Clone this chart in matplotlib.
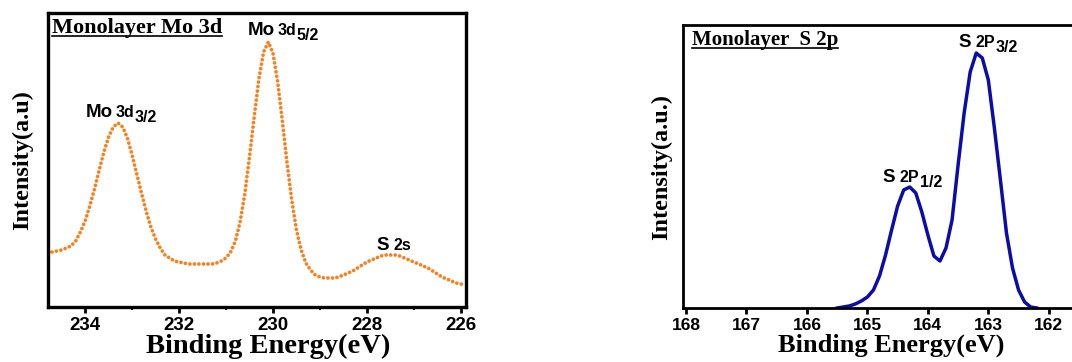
import numpy as np
import matplotlib.pyplot as plt
from matplotlib.ticker import MultipleLocator

# Mo 3d region, binding energy (eV) and intensity (a.u.)
mo_energy = [234.8, 234.7, 234.6, 234.5, 234.4, 234.3, 234.2, 234.1, 234.0, 233.9,
             233.8, 233.7, 233.6, 233.5, 233.4, 233.3, 233.2, 233.1, 233.0, 232.9,
             232.8, 232.7, 232.6, 232.5, 232.4, 232.3, 232.2, 232.1, 232.0, 231.9,
             231.8, 231.7, 231.6, 231.5, 231.4, 231.3, 231.2, 231.1, 231.0, 230.9,
             230.8, 230.7, 230.6, 230.5, 230.4, 230.3, 230.2, 230.1, 230.0, 229.9,
             229.8, 229.7, 229.6, 229.5, 229.4, 229.3, 229.2, 229.1, 229.0, 228.9,
             228.8, 228.7, 228.6, 228.5, 228.4, 228.3, 228.2, 228.1, 228.0, 227.9,
             227.8, 227.7, 227.6, 227.5, 227.4, 227.3, 227.2, 227.1, 227.0, 226.9,
             226.8, 226.7, 226.6, 226.5, 226.4, 226.3, 226.2, 226.1, 226.0, 225.9]
mo_intensity = [54, 55, 56, 57, 59, 61, 66, 75, 86, 101,
                118, 137, 155, 170, 180, 184, 180, 169, 152, 133,
                114, 96, 80, 68, 59, 52, 49, 46, 45, 44,
                43, 43, 43, 43, 43, 43, 44, 46, 49, 55,
                66, 85, 113, 150, 190, 228, 255, 265, 254, 225,
                186, 144, 107, 77, 57, 44, 37, 32, 30, 29,
                29, 29, 30, 32, 34, 36, 39, 42, 45, 47,
                49, 51, 52, 52, 52, 51, 49, 47, 45, 43,
                41, 39, 36, 33, 30, 28, 26, 24, 23, 22]

# S 2p region
s_energy = [165.5, 165.4, 165.3, 165.2, 165.1, 165.0, 164.9, 164.8, 164.7, 164.6,
            164.5, 164.4, 164.3, 164.2, 164.1, 164.0, 163.9, 163.8, 163.7, 163.6,
            163.5, 163.4, 163.3, 163.2, 163.1, 163.0, 162.9, 162.8, 162.7, 162.6,
            162.5, 162.4, 162.3, 162.2]
s_intensity = [0, 1, 2, 4, 7, 11, 18, 32, 53, 78,
               102, 118, 121, 115, 96, 73, 52, 47, 60, 88,
               143, 195, 236, 255, 250, 228, 180, 128, 75, 40,
               18, 6, 1, 0]

mo_ticks = [234, 232, 230, 228, 226]
s_ticks = [168, 167, 166, 165, 164, 163, 162]

W, H = 1072, 362
serif = 'Liberation Serif'
sans = 'Liberation Sans'
orange = '#F5821F'
blue = '#0C0CA8'

fig = plt.figure(figsize=(W / 100, H / 100), dpi=100)


def px_axes(l, t, r, b):
    return fig.add_axes([l / W, 1 - b / H, (r - l) / W, (b - t) / H])


def fig_xy(x, y):
    return x / W, 1 - y / H


def peak_label(x, y, big, small, sub, gap=1.5):
    t1 = fig.text(*fig_xy(x, y), big, fontsize=13.5, fontweight='bold',
                  family=sans, va='baseline', ha='left')
    t2 = fig.add_artist(plt.Annotation(small, xy=(1, 0), xycoords=t1,
                                       xytext=(gap, 0.5), textcoords='offset points',
                                       fontsize=11.5, fontweight='bold', family=sans,
                                       va='bottom', ha='left'))
    fig.add_artist(plt.Annotation(sub, xy=(1, 0), xycoords=t2,
                                  xytext=(0.5, -3.5), textcoords='offset points',
                                  fontsize=11.5, fontweight='bold', family=sans,
                                  va='bottom', ha='left'))


def underlined_title(x, y, text, size):
    t = fig.text(*fig_xy(x, y), text, fontsize=size, fontweight='bold',
                 family=serif, va='baseline', ha='left')
    fig.canvas.draw()
    bb = t.get_window_extent()
    uy = 1 - (y + 3) / H
    fig.add_artist(plt.Line2D([bb.x0 / W, bb.x1 / W], [uy, uy],
                              transform=fig.transFigure, color='black', lw=1.2))


# ---- left panel: Mo 3d ----
ax1 = px_axes(48, 13, 466, 307)
ax1.plot(mo_energy, mo_intensity, color=orange, lw=2.7,
         linestyle=(0, (0.01, 1.2)), dash_capstyle='round', solid_capstyle='round')
ax1.set_xlim(234.79, 225.89)
ax1.set_ylim(0, 294)
ax1.set_xticks(mo_ticks)
ax1.xaxis.set_minor_locator(MultipleLocator(1))
ax1.set_yticks([])
ax1.tick_params(axis='x', which='major', direction='out', length=4, width=2, pad=3)
ax1.tick_params(axis='x', which='minor', direction='out', length=2.5, width=1.5)
for lab in ax1.get_xticklabels():
    lab.set_fontweight('bold')
    lab.set_fontfamily(sans)
    lab.set_fontsize(13.5)
for s in ax1.spines.values():
    s.set_linewidth(2.4)
ax1.set_xlabel('Binding Energy(eV)', fontsize=20.5, fontweight='bold', family=serif)
ax1.xaxis.set_label_coords(0.526, -0.09)
ax1.set_ylabel('Intensity(a.u)', fontsize=17.5, fontweight='bold', family=serif)
ax1.yaxis.set_label_coords(-0.036, 0.5)

# ---- right panel: S 2p ----
ax2 = px_axes(683, 25, 1076, 308)
ax2.plot(s_energy, s_intensity, color=blue, lw=2.5)
ax2.set_xlim(168.05, 161.55)
ax2.set_ylim(0, 283)
ax2.set_xticks(s_ticks)
ax2.set_yticks([])
ax2.tick_params(axis='x', which='major', direction='out', length=4, width=2, pad=3)
for lab in ax2.get_xticklabels():
    lab.set_fontweight('bold')
    lab.set_fontfamily(sans)
    lab.set_fontsize(12.5)
for s in ax2.spines.values():
    s.set_linewidth(2.0)
ax2.set_xlabel('Binding Energy(eV)', fontsize=19, fontweight='bold', family=serif)
ax2.xaxis.set_label_coords(0.531, -0.092)
ax2.set_ylabel('Intensity(a.u.)', fontsize=17.5, fontweight='bold', family=serif)
ax2.yaxis.set_label_coords(-0.028, 0.5)

# titles and peak labels
underlined_title(52, 33, 'Monolayer Mo 3d', 16)
underlined_title(692, 45, 'Monolayer  S 2p', 15)

peak_label(86, 117, 'Mo', '3d', '3/2')
peak_label(248, 35, 'Mo', '3d', '5/2')
t_s = fig.text(*fig_xy(376, 250), 'S', fontsize=13.5, fontweight='bold', family=sans,
               va='baseline', ha='left')
fig.add_artist(plt.Annotation('2s', xy=(1, 0), xycoords=t_s, xytext=(3.5, 0.5),
                              textcoords='offset points', fontsize=11.5,
                              fontweight='bold', family=sans, va='bottom', ha='left'))
peak_label(882, 182, 'S', '2P', '1/2', gap=3.5)
peak_label(958, 47, 'S', '2P', '3/2', gap=3.5)

fig.savefig('out.png', dpi=100)
